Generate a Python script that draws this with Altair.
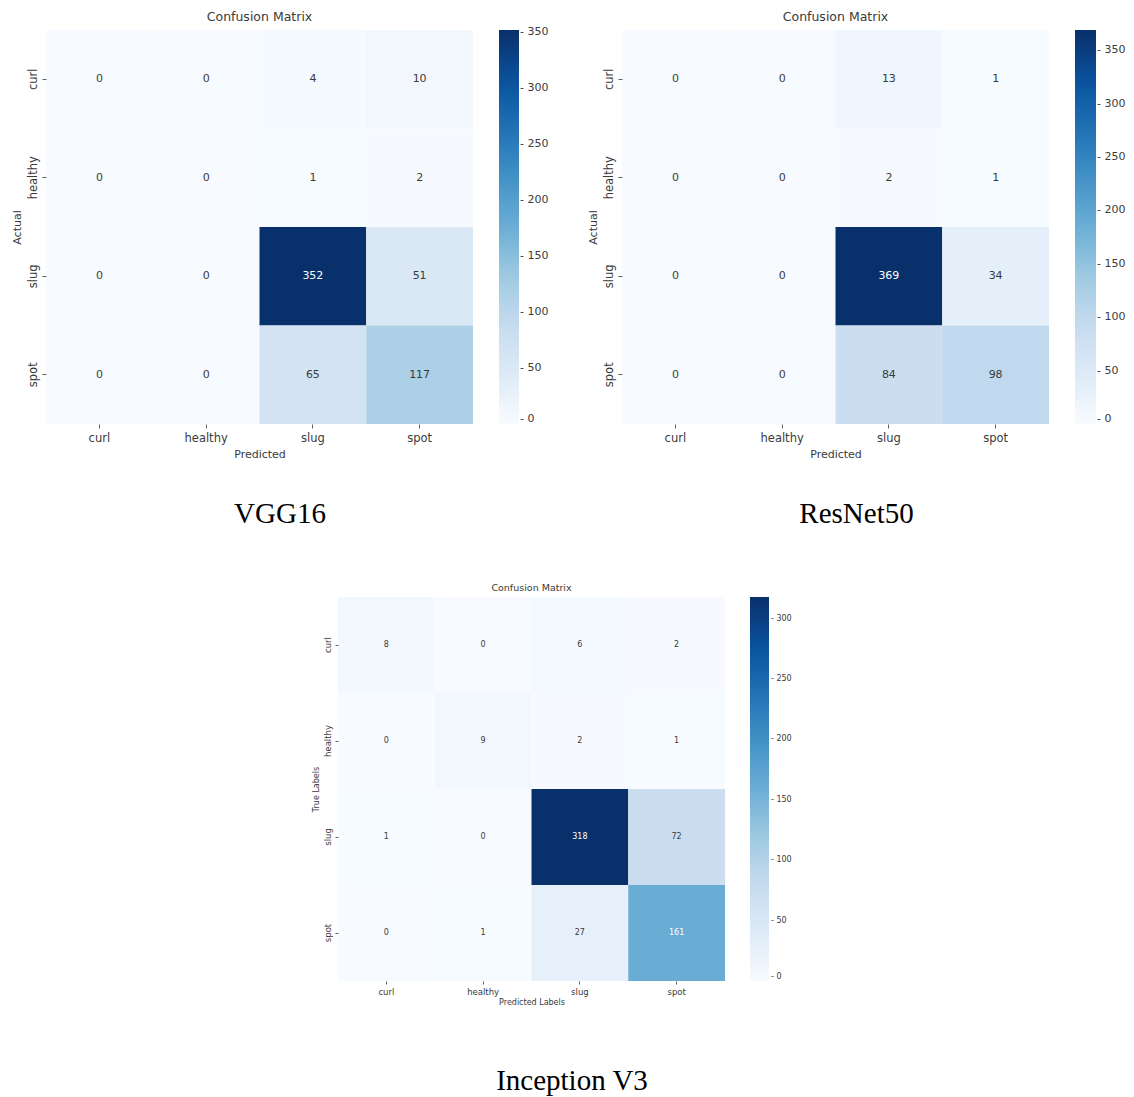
import altair as alt
import pandas as pd

classes = ["curl", "healthy", "slug", "spot"]

vgg16 = [[0, 0, 4, 10],
         [0, 0, 1, 2],
         [0, 0, 352, 51],
         [0, 0, 65, 117]]
resnet50 = [[0, 0, 13, 1],
            [0, 0, 2, 1],
            [0, 0, 369, 34],
            [0, 0, 84, 98]]
inception = [[8, 0, 6, 2],
             [0, 9, 2, 1],
             [1, 0, 318, 72],
             [0, 1, 27, 161]]

ticks_top = [0, 50, 100, 150, 200, 250, 300, 350]
ticks_bottom = [0, 50, 100, 150, 200, 250, 300]

blues = ["#f7fbff", "#deebf7", "#c6dbef", "#9ecae1", "#6baed6",
         "#4292c6", "#2171b5", "#08519c", "#08306b"]

SANS = "DejaVu Sans"
SERIF = "Liberation Serif"
TXT = "#3a3a3a"


def frame(mat):
    rows = []
    for i, a in enumerate(classes):
        for j, p in enumerate(classes):
            rows.append({"actual": a, "predicted": p, "v": mat[i][j]})
    return pd.DataFrame(rows)


def panel(mat, w, h, xtitle, ytitle, s, legend_values, offset, thick):
    df = frame(mat)
    vmax = max(max(r) for r in mat)
    stops = [vmax * k / 8 for k in range(9)]
    x = alt.X("predicted:N", sort=classes,
              scale=alt.Scale(paddingInner=0, paddingOuter=0),
              axis=alt.Axis(title=xtitle, labelAngle=0, domain=False, grid=False,
                            tickSize=s["tick"], tickColor=TXT, tickWidth=0.8,
                            labelFont=SANS, labelFontSize=s["lab"], labelColor=TXT,
                            labelPadding=s["lpad"],
                            titleFont=SANS, titleFontSize=s["ax"], titleFontWeight="normal",
                            titleColor=TXT, titlePadding=s["tpad"], bandPosition=0.5))
    y = alt.Y("actual:N", sort=classes,
              scale=alt.Scale(paddingInner=0, paddingOuter=0),
              axis=alt.Axis(title=ytitle, labelAngle=270, labelAlign="center",
                            labelBaseline="bottom", domain=False, grid=False,
                            tickSize=s["tick"], tickColor=TXT, tickWidth=0.8,
                            labelFont=SANS, labelFontSize=s["lab"], labelColor=TXT,
                            labelPadding=s["lpad"],
                            titleFont=SANS, titleFontSize=s["ax"], titleFontWeight="normal",
                            titleColor=TXT, titlePadding=s["tpad"], bandPosition=0.5))
    rect = alt.Chart(df).mark_rect().encode(
        x=x, y=y,
        color=alt.Color("v:Q", title=None,
                        scale=alt.Scale(domain=stops, range=blues, clamp=True),
                        legend=alt.Legend(orient="right", offset=offset, padding=0,
                                          gradientLength=h, gradientThickness=thick,
                                          gradientStrokeWidth=0, values=legend_values,
                                          labelFont=SANS, labelFontSize=s["leg"],
                                          labelColor=TXT, labelOffset=s["loff"],
                                          labelBaseline="middle", labelOverlap=False,
                                          labelExpr="'- ' + datum.label")),
    )
    text = alt.Chart(df).mark_text(font=SANS, fontSize=s["num"]).encode(
        x=alt.X("predicted:N", sort=classes),
        y=alt.Y("actual:N", sort=classes),
        text=alt.Text("v:Q"),
        color=alt.condition(f"datum.v > {0.45 * vmax}", alt.value("#ffffff"), alt.value(TXT)),
    )
    return alt.layer(rect, text).properties(
        width=w, height=h,
        title=alt.Title("Confusion Matrix", font=SANS, fontSize=s["title"],
                        fontWeight="normal", color=TXT, offset=s["toff"]),
    )


big = {"tick": 4, "lab": 11.5, "lpad": 4, "ax": 11, "tpad": 5, "num": 11,
       "leg": 11, "title": 12.5, "toff": 7, "loff": 1}
small = {"tick": 3, "lab": 8.5, "lpad": 3, "ax": 8, "tpad": 3, "num": 8,
         "leg": 8, "title": 9.5, "toff": 5, "loff": 2}

p1 = panel(vgg16, 427, 394, "Predicted", "Actual", big, ticks_top, 26, 20)
p2 = panel(resnet50, 427, 394, "Predicted", "Actual", big, ticks_top, 26, 21)
p3 = panel(inception, 387, 384, "Predicted Labels", "True Labels", small, ticks_bottom, 25, 19)


def caption(txt, off, dx=0):
    return alt.Title(txt, orient="bottom", anchor="middle", font=SERIF, fontSize=29,
                     fontWeight="normal", color="#000000", offset=off, dx=dx)


c1 = alt.vconcat(p1, title=caption("VGG16", 40)).resolve_scale(color="independent")
c2 = alt.vconcat(p2, title=caption("ResNet50", 40)).resolve_scale(color="independent")
c3 = alt.vconcat(p3, title=caption("Inception V3", 60, 20)).resolve_scale(color="independent")

spacer = alt.Chart(pd.DataFrame({"a": [0]})).mark_rule(opacity=0).encode(
    x=alt.value(0), x2=alt.value(1), y=alt.value(0)
).properties(width=266, height=1)

top = alt.hconcat(c1, c2, spacing=38).resolve_scale(color="independent")
bottom = alt.hconcat(spacer, c3, spacing=0).resolve_scale(color="independent")

chart = alt.vconcat(top, bottom, spacing=53).resolve_scale(color="independent").properties(
    padding={"left": 3, "top": 2, "right": 0, "bottom": 2}, background="white"
).configure_view(strokeWidth=0).configure_concat(spacing=0)

chart.save("out.html", embed_options={"renderer": "svg", "actions": False})
